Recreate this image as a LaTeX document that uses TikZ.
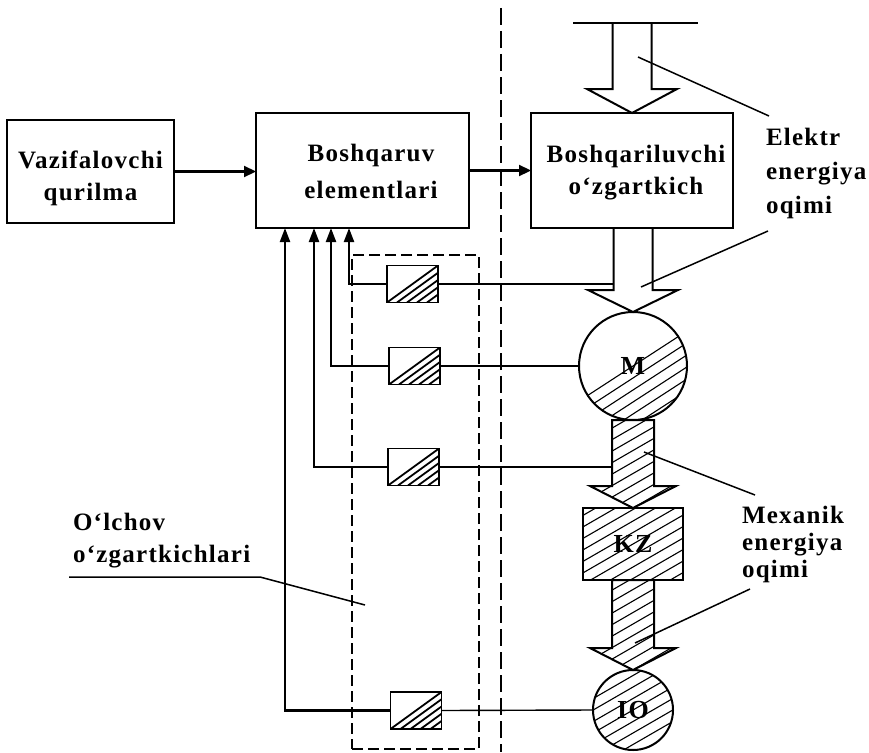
\documentclass[tikz,border=0pt]{standalone}
\usepackage{fontspec}
\setmainfont{Liberation Serif}[LetterSpace=5]
\usetikzlibrary{arrows.meta,calc}
\newcommand\mytab[2]{\begin{tabular}{@{}#1@{}}#2\end{tabular}}
\newcommand\blkarrow[5]{let \p1=(#1), \p2=(#2) in (\x2-#3,\y1) -- (\x2-#3,\y2+#5) -- (\x2-#4,\y2+#5) -- (\x2,\y2) -- (\x2+#4,\y2+#5) -- (\x2+#3,\y2+#5) -- (\x2+#3,\y1)}
\begin{document}
\begin{tikzpicture}[x=1pt,y=-1pt,
  every node/.style={inner sep=0pt, outer sep=0pt},
  txt/.style={font=\fontsize{25}{32}\selectfont\bfseries},
  big/.style={font=\fontsize{26}{30}\selectfont\bfseries},
  box/.style={draw, line width=1.8pt, txt},
  ar/.style={line width=2.2pt, -{Triangle[length=12pt,width=11pt]}},
  fb/.style={line width=2.2pt, -{Triangle[length=14pt,width=10pt]}},
  sl/.style={line width=1.4pt},
  ld/.style={line width=1.5pt},
  hl/.style={line width=1.1pt},
  flow/.style={line width=2pt, line join=miter},
  sens/.style={draw, line width=1.8pt, minimum width=51pt, minimum height=37pt,
    path picture={\foreach \hx in {0,10,...,40}{\draw[line width=1.8pt] ($(path picture bounding box.south west)+(\hx,0)$) -- ($(path picture bounding box.north east)+(\hx,0)$);}}},
  hatchall/.style={path picture={\foreach \k in {-10,...,10}{\draw[hl] ($(path picture bounding box.center)+(-120,{69.3+(\k)*11.5})$) -- ++(240,-138.6);}}},
  mhalf/.style={path picture={\foreach \k in {0,...,6}{\draw[hl] ($(path picture bounding box.center)+(-90,{58.5+(\k)*12})$) -- ++(180,-117);}}}
]
\useasboundingbox (0,0) rectangle (869,752);

% main boxes
\node[box, minimum width=167pt, minimum height=103pt] (vaz) at (90.5,171.5)
  {\raisebox{-6.3pt}[\height][\depth]{\mytab{c}{Vazifalovchi\\qurilma}}};
\node[box, font=\fontsize{25}{37}\selectfont\bfseries, minimum width=213pt, minimum height=115pt] (bosh) at (362.5,170.5)
  {\hspace*{17pt}\raisebox{-1.6pt}[\height][\depth]{\mytab{c}{Boshqaruv\\elementlari}}};
\node[box, minimum width=202pt, minimum height=115pt] (bpr) at (632,170.5)
  {\hspace*{8pt}\raisebox{-2pt}[\height][\depth]{\mytab{c}{Boshqariluvchi\\o‘zgartkich}}};

\draw[ar] (vaz.east) -- (vaz.east -| bosh.west);
\draw[ar] (bosh.east) -- (bosh.east -| bpr.west);

% separating dashed line
\draw[line width=1.4pt, dash pattern=on 17pt off 6pt] (501,8) -- (501,752);

% machine chain
\node[circle, draw, line width=2pt, minimum size=108pt, big, mhalf] (M) at (633,366) {M};
\node[draw, line width=2pt, minimum width=100pt, minimum height=72pt, big, hatchall] (KZ) at (633,544) {KZ};
\node[circle, draw, line width=2pt, minimum size=80pt, big, hatchall] (IO) at (633,710) {IO};

% electric energy flow
\coordinate (barL) at (573,23);
\coordinate (barR) at (698,23);
\coordinate (barC) at (633,23);
\draw[line width=2.2pt] (barL) -- (barR);
\draw[flow] \blkarrow{barC}{bpr.north}{19.5pt}{45pt}{24pt};
\draw[flow] \blkarrow{bpr.south}{M.north}{19.5pt}{45pt}{22pt};

% mechanical energy flow
\begin{scope}
  \clip \blkarrow{M.south}{KZ.north}{21pt}{43pt}{22pt} -- cycle;
  \foreach \k in {-14,...,14}{\draw[hl] ($(KZ.north)+(-120,{69.3+(\k)*11.5})$) -- ++(240,-138.6);}
\end{scope}
\draw[flow] \blkarrow{M.south}{KZ.north}{21pt}{43pt}{22pt} -- cycle;
\begin{scope}
  \clip \blkarrow{KZ.south}{IO.north}{21pt}{43pt}{22pt} -- cycle;
  \foreach \k in {-14,...,14}{\draw[hl] ($(IO.north)+(-120,{69.3+(\k)*11.5})$) -- ++(240,-138.6);}
\end{scope}
\draw[flow] \blkarrow{KZ.south}{IO.north}{21pt}{43pt}{22pt} -- cycle;

% measuring transducers
\node[draw, line width=1.5pt, dash pattern=on 11pt off 5pt, minimum width=127pt, minimum height=494pt] (grp) at (415.5,502) {};
\node[sens] (s1) at (412.5,284) {};
\node[sens] (s2) at (414.5,366) {};
\node[sens] (s3) at (413.5,467) {};
\node[sens] (s4) at (416,710.5) {};

\coordinate (eL) at (614,0);
\coordinate (mL) at (613,0);
\draw[sl] (s1.east) -- (s1.east -| eL);
\draw[sl] (s2.east) -- (M.west);
\draw[sl] (s3.east) -- (s3.east -| mL);
\draw[sl] (s4.east) -- (IO.west);

\coordinate (f1) at (349,0);
\coordinate (f2) at (331,0);
\coordinate (f3) at (314,0);
\coordinate (f4) at (285,0);
\draw[fb] (s1.west) -| (f1 |- bosh.south);
\draw[fb] (s2.west) -| (f2 |- bosh.south);
\draw[fb] (s3.west) -| (f3 |- bosh.south);
\draw[fb] (s4.west) -| (f4 |- bosh.south);

% labels
\node[txt, font=\fontsize{25}{34}\selectfont\bfseries, anchor=west] (el) at (766,173)
  {\mytab{l}{Elektr\\energiya\\oqimi}};
\node[txt, font=\fontsize{25}{27}\selectfont\bfseries, anchor=west] (me) at (742,544.6)
  {\mytab{l}{Mexanik\\energiya\\oqimi}};
\node[txt, anchor=west] (ol) at (73,539.6)
  {\mytab{l}{O‘lchov\\o‘zgartkichlari}};

\coordinate (e1a) at (638,57);   \coordinate (e1b) at (769,116);
\coordinate (e2a) at (641,287);  \coordinate (e2b) at (768,231);
\coordinate (m1a) at (644,452);  \coordinate (m1b) at (755,495);
\coordinate (m2a) at (635,643);  \coordinate (m2b) at (750,589);
\coordinate (o1a) at (69,577);   \coordinate (o1b) at (260,577);  \coordinate (o1c) at (365,605);
\draw[ld] (e1a) -- (e1b);
\draw[ld] (e2a) -- (e2b);
\draw[ld] (m1a) -- (m1b);
\draw[ld] (m2a) -- (m2b);
\draw[ld] (o1a) -- (o1b) -- (o1c);
\end{tikzpicture}
\end{document}
